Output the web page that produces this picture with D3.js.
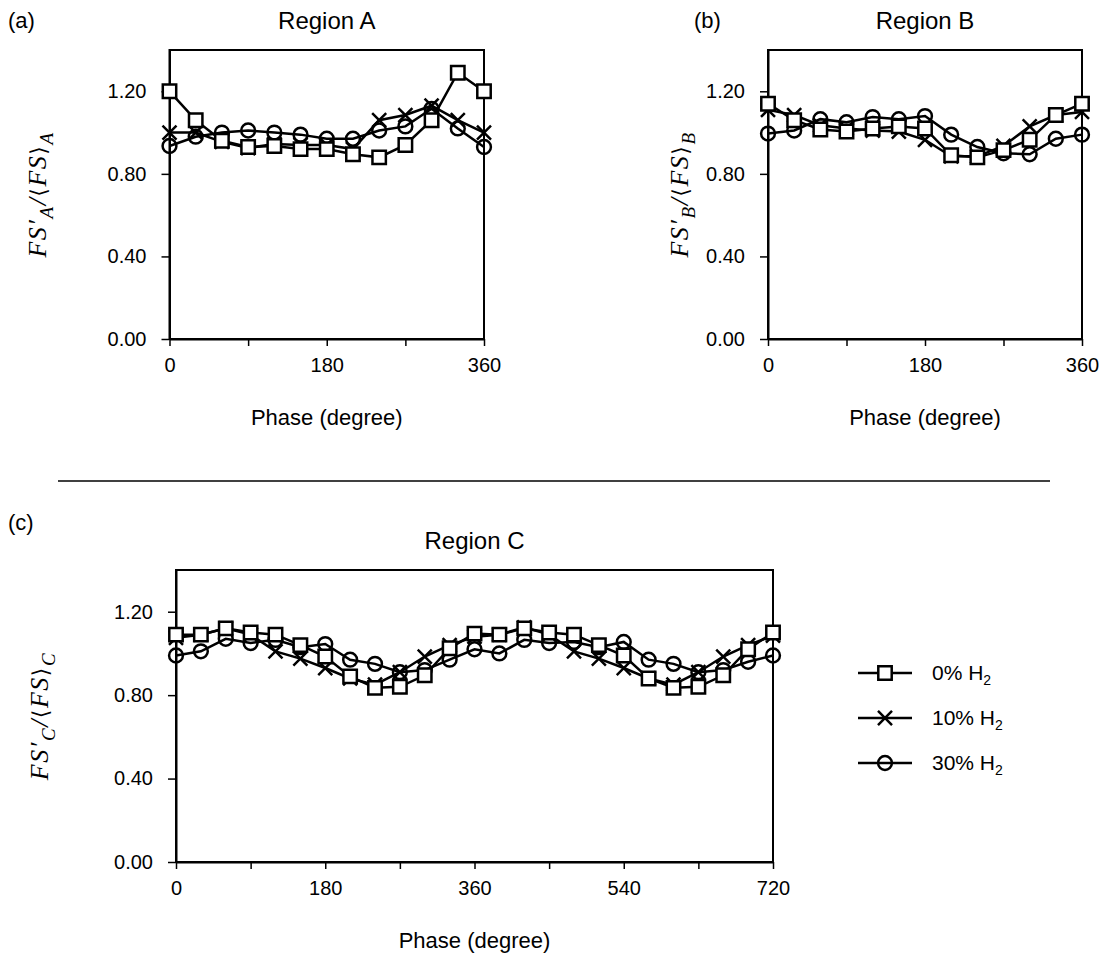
<!DOCTYPE html>
<html>
<head>
<meta charset="utf-8">
<script src="https://cdn.jsdelivr.net/npm/d3@7"></script>
<style>
  body { margin: 0; background: #fff; }
  svg text { font-family: "Liberation Sans", Arial, sans-serif; fill: #000; }
</style>
</head>
<body>
<div id="chart"></div>
<script>
// phase positions (degree)
const phaseAB = [0, 30, 60, 90, 120, 150, 180, 210, 240, 270, 300, 330, 360];
const phaseC = [0, 30, 60, 90, 120, 150, 180, 210, 240, 270, 300, 330, 360,
  390, 420, 450, 480, 510, 540, 570, 600, 630, 660, 690, 720];

const seriesNames = ["0% H", "10% H", "30% H"];
const yTicks = [0, 0.4, 0.8, 1.2];

// Region A
const regionA0 = [1.20, 1.06, 0.96, 0.93, 0.935, 0.92, 0.92, 0.895, 0.88, 0.94, 1.06, 1.29, 1.20];
const regionA10 = [1.00, 1.00, 0.955, 0.925, 0.945, 0.94, 0.94, 0.92, 1.06, 1.085, 1.13, 1.06, 1.00];
const regionA30 = [0.935, 0.98, 1.00, 1.01, 1.00, 0.99, 0.97, 0.97, 1.01, 1.03, 1.115, 1.02, 0.93];

// Region B
const regionB0 = [1.14, 1.06, 1.015, 1.005, 1.02, 1.03, 1.02, 0.89, 0.88, 0.915, 0.965, 1.085, 1.14];
const regionB10 = [1.11, 1.085, 1.035, 1.02, 1.01, 1.005, 0.965, 0.885, 0.885, 0.935, 1.03, 1.085, 1.10];
const regionB30 = [0.995, 1.01, 1.065, 1.05, 1.075, 1.065, 1.08, 0.99, 0.93, 0.90, 0.895, 0.97, 0.99];

// Region C
const regionC0 = [1.09, 1.09, 1.12, 1.10, 1.09, 1.04, 0.985, 0.89, 0.835, 0.84, 0.895, 1.025, 1.095,
  1.09, 1.12, 1.10, 1.09, 1.04, 0.99, 0.88, 0.835, 0.84, 0.895, 1.02, 1.10];
const regionC10 = [1.075, 1.09, 1.12, 1.09, 1.01, 0.975, 0.93, 0.88, 0.85, 0.91, 0.985, 1.04, 1.08,
  1.09, 1.125, 1.09, 1.01, 0.975, 0.93, 0.88, 0.85, 0.91, 0.985, 1.04, 1.085];
const regionC30 = [0.99, 1.01, 1.07, 1.05, 1.065, 1.03, 1.045, 0.97, 0.95, 0.91, 0.92, 0.97, 1.02,
  1.00, 1.065, 1.05, 1.055, 1.03, 1.055, 0.97, 0.95, 0.91, 0.92, 0.96, 0.99];

const svg = d3.select("#chart").append("svg")
  .attr("width", 1112)
  .attr("height", 965);

const markers = [
  d3.symbol().type(d3.symbolSquare).size(180),
  d3.symbol().type(d3.symbolTimes).size(130),
  d3.symbol().type(d3.symbolCircle).size(150)
];
const markerFill = ["#fff", "none", "none"];

function drawPanel(p) {
  const x = d3.scaleLinear().domain([0, p.xMax]).range([p.left, p.right]);
  const y = d3.scaleLinear().domain([0, 1.4]).range([p.bottom, p.top]);
  const g = svg.append("g");

  // frame
  g.append("rect")
    .attr("x", p.left).attr("y", p.top)
    .attr("width", p.right - p.left).attr("height", p.bottom - p.top)
    .attr("fill", "none").attr("stroke", "#000").attr("stroke-width", 2);

  const xAxis = g.append("g")
    .attr("transform", `translate(0,${p.bottom})`)
    .call(d3.axisBottom(x)
      .tickValues(d3.range(0, p.xMax + 1, 90))
      .tickSize(7).tickSizeOuter(0).tickPadding(12)
      .tickFormat((d) => (d % 180 === 0 ? d : "")));
  const yAxis = g.append("g")
    .attr("transform", `translate(${p.left},0)`)
    .call(d3.axisLeft(y)
      .tickValues(yTicks)
      .tickSize(8).tickSizeOuter(0).tickPadding(15)
      .tickFormat(d3.format(".2f")));
  [xAxis, yAxis].forEach((a) => {
    a.select(".domain").attr("stroke-width", 2);
    a.selectAll(".tick line").attr("stroke-width", 1.5);
    a.selectAll(".tick text").attr("font-size", 20).attr("font-family", "Liberation Sans, Arial, sans-serif");
  });

  // titles
  g.append("text")
    .attr("x", (p.left + p.right) / 2).attr("y", p.top - 21)
    .attr("text-anchor", "middle").attr("font-size", 24)
    .text(p.title);
  g.append("text")
    .attr("x", p.tagX).attr("y", p.tagY)
    .attr("font-size", 22)
    .text(p.tag);
  g.append("text")
    .attr("x", (p.left + p.right) / 2).attr("y", p.bottom + 86)
    .attr("text-anchor", "middle").attr("font-size", 22)
    .text("Phase (degree)");

  // y label: FS'_X / <FS>_X
  const yl = g.append("text")
    .attr("transform", `translate(${p.labelX},${(p.top + p.bottom) / 2}) rotate(-90)`)
    .attr("text-anchor", "middle")
    .style("font-family", "'Liberation Serif', 'DejaVu Serif', serif")
    .style("font-style", "italic")
    .style("letter-spacing", "1.5px")
    .attr("font-size", 26);
  yl.append("tspan").text("FS\u2032");
  yl.append("tspan").attr("dy", 7).attr("font-size", 19).text(p.sub);
  yl.append("tspan").attr("dy", -7).text("/");
  yl.append("tspan").style("font-family", "'DejaVu Serif', serif").style("font-style", "normal").attr("font-size", 22).text("\u27E8");
  yl.append("tspan").text("FS");
  yl.append("tspan").style("font-family", "'DejaVu Serif', serif").style("font-style", "normal").attr("font-size", 22).text("\u27E9");
  yl.append("tspan").attr("dy", 7).attr("font-size", 19).text(p.sub);

  const line = d3.line().x((d) => x(d[0])).y((d) => y(d[1]));

  // draw 30% first, 0% on top
  [2, 1, 0].forEach((k) => {
    const pts = p.xs.map((v, i) => [v, p.series[k][i]]);
    g.append("path")
      .attr("d", line(pts))
      .attr("fill", "none").attr("stroke", "#000").attr("stroke-width", 2.5);
    g.selectAll(null)
      .data(pts)
      .enter()
      .append("path")
      .attr("transform", (d) => `translate(${x(d[0])},${y(d[1])})`)
      .attr("d", markers[k])
      .attr("fill", markerFill[k])
      .attr("stroke", "#000").attr("stroke-width", 2.5);
  });
}

drawPanel({
  left: 169.5, right: 484, top: 50, bottom: 339, xMax: 360,
  title: "Region A", tag: "(a)", tagX: 8, tagY: 28, sub: "A", labelX: 46,
  xs: phaseAB, series: [regionA0, regionA10, regionA30]
});
drawPanel({
  left: 768, right: 1082, top: 50, bottom: 339, xMax: 360,
  title: "Region B", tag: "(b)", tagX: 694, tagY: 28, sub: "B", labelX: 688,
  xs: phaseAB, series: [regionB0, regionB10, regionB30]
});
drawPanel({
  left: 176, right: 773, top: 570, bottom: 862, xMax: 720,
  title: "Region C", tag: "(c)", tagX: 8, tagY: 530, sub: "C", labelX: 48,
  xs: phaseC, series: [regionC0, regionC10, regionC30]
});

// separator between the rows
svg.append("line")
  .attr("x1", 58).attr("x2", 1050)
  .attr("y1", 481).attr("y2", 481)
  .attr("stroke", "#000").attr("stroke-width", 1.5);

// legend
const legend = svg.append("g");
seriesNames.forEach((name, k) => {
  const ly = 673 + k * 45;
  legend.append("line")
    .attr("x1", 858).attr("x2", 912).attr("y1", ly).attr("y2", ly)
    .attr("stroke", "#000").attr("stroke-width", 2.5);
  legend.append("path")
    .attr("transform", `translate(885,${ly})`)
    .attr("d", markers[k])
    .attr("fill", markerFill[k])
    .attr("stroke", "#000").attr("stroke-width", 2.5);
  const t = legend.append("text")
    .attr("x", 932).attr("y", ly + 7)
    .attr("font-size", 21);
  t.append("tspan").text(name);
  t.append("tspan").attr("dy", 5).attr("font-size", 14).text("2");
});
</script>
</body>
</html>
